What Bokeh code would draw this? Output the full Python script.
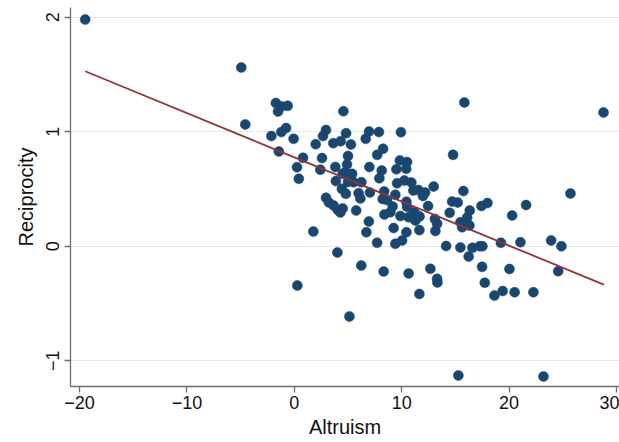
from bokeh.plotting import figure
from bokeh.models import FixedTicker, Range1d
from bokeh.embed import file_html
from bokeh.resources import INLINE

altruism = [
    -19.48, -4.94, -4.57, 15.84, 28.80, 15.28, 23.21, 0.28, 5.13, 1.77, 4.01, 25.72,
    -1.72, -1.21, -0.62, -1.52, -2.14, -1.21, -0.77, -0.07, -1.44, 0.25, 0.42, 0.81,
    1.99, 2.67, 2.95, 4.57, 2.58, 2.42, 4.82, 3.63, 4.32, 5.27, 3.82, 5.00, 4.91,
    4.75, 3.87, 5.00, 4.43, 4.80, 2.95, 3.22, 3.66, 4.50,
    6.96, 6.65, 7.88, 9.93, 8.27, 7.72, 6.99, 8.14, 7.92, 9.83, 10.50, 9.51, 10.42,
    9.57, 10.25, 10.90, 4.50, 5.38, 5.53, 6.24, 5.99, 7.04, 6.15, 8.37, 8.23, 8.64,
    9.41, 11.09, 11.56, 12.18, 11.98, 12.98, 4.04, 5.76, 10.44, 10.50, 9.16, 8.95,
    12.46, 6.94, 8.39, 9.88, 11.28, 11.67, 6.71, 7.71, 9.25, 9.41, 10.04, 10.44,
    10.65, 11.12, 11.65, 13.09, 13.14, 13.30, 6.24, 8.32, 10.65, 12.67, 13.30, 13.33,
    11.65, 11.28, 4.29,
    14.79, 15.75, 14.70, 15.22, 17.99, 17.43, 21.59, 20.29, 14.47, 16.34, 16.10, 15.47,
    15.63, 14.14, 15.47, 16.59, 17.27, 17.52, 16.24, 19.24, 21.06, 17.49, 20.04, 17.74,
    18.64, 19.41, 20.52, 22.27, 23.92, 24.88, 24.58, 16.31,
]
reciprocity = [
    1.98, 1.561, 1.063, 1.255, 1.168, -1.129, -1.138, -0.343, -0.614, 0.128, -0.055, 0.460,
    1.251, 1.220, 1.226, 1.176, 0.962, 0.997, 1.032, 0.938, 0.827, 0.690, 0.589, 0.772,
    0.891, 0.962, 1.015, 1.179, 0.770, 0.668, 0.987, 0.900, 0.917, 0.888, 0.692, 0.788, 0.714,
    0.646, 0.569, 0.561, 0.501, 0.458, 0.423, 0.382, 0.355, 0.329,
    1.002, 0.938, 0.997, 0.996, 0.852, 0.798, 0.692, 0.661, 0.593, 0.749, 0.735, 0.672, 0.676,
    0.550, 0.574, 0.556, 0.632, 0.632, 0.559, 0.559, 0.463, 0.469, 0.417, 0.478, 0.412, 0.404,
    0.449, 0.486, 0.491, 0.469, 0.438, 0.521, 0.318, 0.312, 0.388, 0.345, 0.347, 0.297,
    0.351, 0.216, 0.277, 0.264, 0.283, 0.259, 0.122, 0.030, 0.159, 0.021, 0.050, 0.122,
    0.253, 0.297, 0.141, 0.238, 0.133, 0.196, -0.169, -0.221, -0.238, -0.197, -0.285, -0.317,
    -0.417, 0.224, 0.295,
    0.798, 0.482, 0.390, 0.382, 0.377, 0.351, 0.360, 0.268, 0.292, 0.312, 0.251, 0.210,
    0.166, 0.002, -0.011, -0.014, 0.000, 0.000, -0.090, 0.030, 0.035, -0.180, -0.199, -0.319,
    -0.431, -0.391, -0.402, -0.402, 0.050, 0.000, -0.218, 0.181,
]

fit_x = [-19.48, 28.83]
fit_y = [1.528, -0.335]

x_ticks = [-20, -10, 0, 10, 20, 30]
y_ticks = [-1, 0, 1, 2]

FONT = "Liberation Sans"

p = figure(width=619, height=442, output_backend="svg", toolbar_location=None,
           x_range=Range1d(-20.85, 30.29), y_range=Range1d(-1.225, 2.085),
           min_border_left=70, min_border_right=0, min_border_top=7, min_border_bottom=56)
p.outline_line_color = None
p.background_fill_color = "white"
p.border_fill_color = "white"

p.scatter(altruism, reciprocity, size=10, marker="circle",
          fill_color="#1a476f", line_color="#1a476f", line_width=0.5)
p.line(fit_x, fit_y, line_color="#90353b", line_width=1.8)

p.xgrid.grid_line_color = None
p.ygrid.grid_line_color = "#e8e8e8"
p.ygrid.grid_line_width = 1

p.xaxis.ticker = FixedTicker(ticks=x_ticks)
p.yaxis.ticker = FixedTicker(ticks=y_ticks)
p.xaxis.major_label_overrides = {t: (str(t).replace("-", "\u2212")) for t in x_ticks}
p.yaxis.major_label_overrides = {t: (str(t).replace("-", "\u2212")) for t in y_ticks}
p.yaxis.major_label_orientation = "vertical"

for ax in (p.xaxis[0], p.yaxis[0]):
    ax.axis_line_color = "#6e6e6e"
    ax.axis_line_width = 1.3
    ax.major_tick_line_color = "#6e6e6e"
    ax.major_tick_line_width = 1.3
    ax.major_tick_out = 6
    ax.major_tick_in = 0
    ax.minor_tick_line_color = None
    ax.major_label_text_font = FONT
    ax.major_label_text_font_size = "18px"
    ax.major_label_text_color = "#111111"
    ax.axis_label_text_font = FONT
    ax.axis_label_text_font_size = "20px"
    ax.axis_label_text_font_style = "normal"
    ax.axis_label_text_color = "#111111"

p.xaxis.axis_label = "Altruism"
p.yaxis.axis_label = "Reciprocity"
p.xaxis.major_label_standoff = 3
p.xaxis.axis_label_standoff = 4
p.yaxis.major_label_standoff = 5
p.yaxis.axis_label_standoff = 7

open("out.html", "w").write(file_html(p, INLINE))
